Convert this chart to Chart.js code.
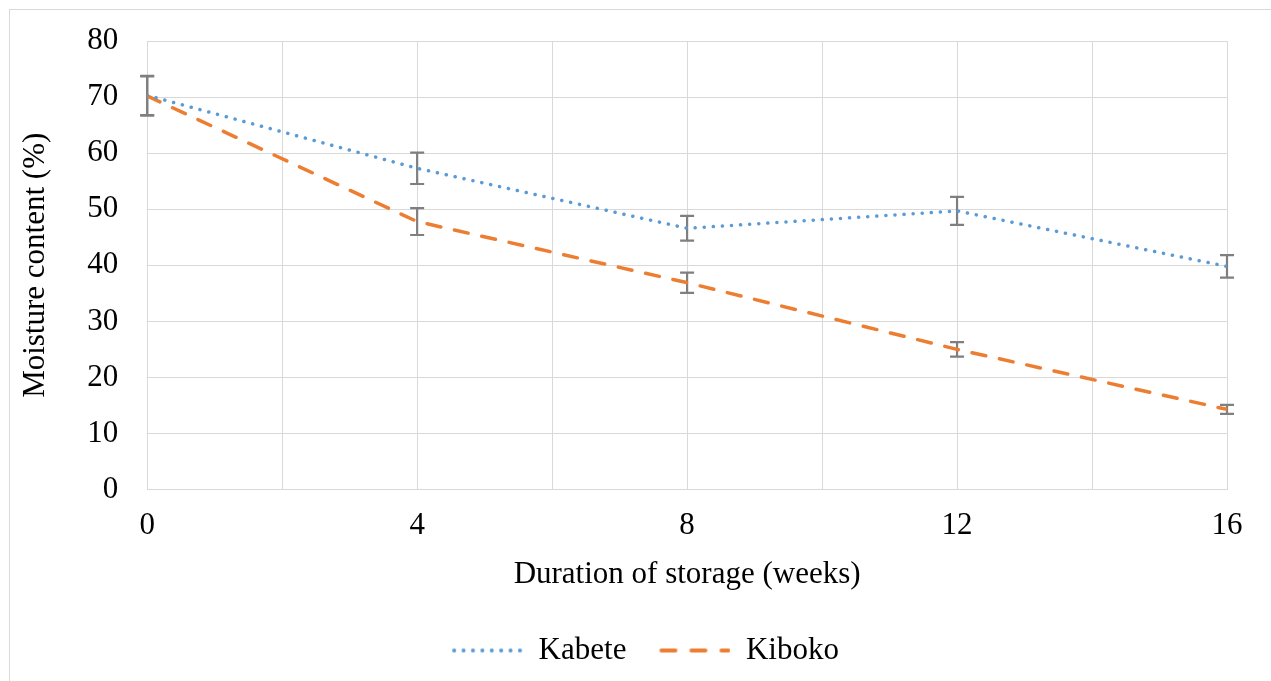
<!DOCTYPE html>
<html>
<head>
<meta charset="utf-8">
<script src="https://cdn.jsdelivr.net/npm/chart.js@4.4.1/dist/chart.umd.min.js"></script>
<style>
  html, body { margin: 0; padding: 0; background: #fff; overflow: hidden; }
  #frame { position: absolute; left: 9px; top: 9px; width: 1280px; height: 700px; border: 1px solid #d9d9d9; box-sizing: border-box; }
  #wrap { position: absolute; left: 0; top: 0; width: 1271px; height: 681px; }
</style>
</head>
<body>
<div id="frame"></div>
<div id="wrap"><canvas id="moistureChart"></canvas></div>
<script>
const weeks = [0, 4, 8, 12, 16];
const kabete = [70.3, 57.3, 46.6, 49.7, 39.8];
const kabeteErr = [3.5, 2.8, 2.2, 2.5, 2.0];
const kiboko = [70.2, 47.8, 36.9, 25.0, 14.3];
const kibokoErr = [3.5, 2.4, 1.8, 1.3, 0.8];

const serif = "'Liberation Serif', 'Times New Roman', serif";
const fontSize = 31;

// legend sample line, with some blank space on the left
function legendLine(color, dash, width) {
  const c = document.createElement('canvas');
  c.width = 82; c.height = 12;
  const g = c.getContext('2d');
  g.strokeStyle = color;
  g.lineWidth = width;
  g.lineCap = 'round';
  g.setLineDash(dash);
  g.beginPath();
  g.moveTo(13, 6);
  g.lineTo(80, 6);
  g.stroke();
  return c;
}

const errorBars = {
  id: 'errorBars',
  beforeDatasetsDraw(chart) {
    const { ctx, scales: { x, y } } = chart;
    const errs = [kabeteErr, kibokoErr];
    ctx.save();
    ctx.strokeStyle = '#7f7f7f';
    ctx.lineWidth = 2.2;
    chart.data.datasets.forEach((ds, i) => {
      ds.data.forEach((p, j) => {
        const px = x.getPixelForValue(p.x);
        const top = y.getPixelForValue(p.y + errs[i][j]);
        const bot = y.getPixelForValue(p.y - errs[i][j]);
        ctx.beginPath();
        ctx.moveTo(px, top); ctx.lineTo(px, bot);
        ctx.moveTo(px - 7, top); ctx.lineTo(px + 7, top);
        ctx.moveTo(px - 7, bot); ctx.lineTo(px + 7, bot);
        ctx.stroke();
      });
    });
    ctx.restore();
  }
};

// nudge the legend to the right, like the original
const legendShift = {
  id: 'legendShift',
  afterLayout(chart) {
    chart.legend.left += 18;
    chart.legend.right += 18;
  }
};

const ctx = document.getElementById('moistureChart').getContext('2d');

new Chart(ctx, {
  type: 'line',
  data: {
    datasets: [
      {
        label: 'Kabete',
        data: weeks.map((w, i) => ({ x: w, y: kabete[i] })),
        borderColor: '#5b9bd5',
        borderWidth: 3.5,
        borderDash: [0.1, 9],
        borderCapStyle: 'round',
        pointRadius: 0,
        pointStyle: legendLine('#5b9bd5', [0.1, 9.3], 4),
        tension: 0
      },
      {
        label: 'Kiboko',
        data: weeks.map((w, i) => ({ x: w, y: kiboko[i] })),
        borderColor: '#ed7d31',
        borderWidth: 3.5,
        borderDash: [14, 14],
        borderCapStyle: 'round',
        pointRadius: 0,
        pointStyle: legendLine('#ed7d31', [14, 16], 4),
        tension: 0
      }
    ]
  },
  options: {
    responsive: true,
    maintainAspectRatio: false,
    animation: false,
    layout: { padding: { left: 17, right: 44, top: 41, bottom: 5 } },
    scales: {
      x: {
        type: 'linear',
        min: 0,
        max: 16,
        afterFit: s => { s.height -= 7; },
        ticks: {
          stepSize: 2,
          color: '#000',
          font: { family: serif, size: fontSize },
          padding: 18,
          maxRotation: 0,
          callback: v => (v % 4 === 0 ? v : '')
        },
        grid: { color: '#d9d9d9', drawTicks: false },
        border: { display: false },
        title: {
          display: true,
          text: 'Duration of storage (weeks)',
          color: '#000',
          font: { family: serif, size: fontSize },
          padding: { top: 0, bottom: 20 }
        }
      },
      y: {
        min: 0,
        max: 80,
        afterFit: s => { s.paddingTop = 0; },
        ticks: {
          stepSize: 10,
          color: '#000',
          font: { family: serif, size: fontSize },
          padding: 29
        },
        grid: { color: '#d9d9d9', drawTicks: false },
        border: { display: false },
        title: {
          display: true,
          text: 'Moisture content (%)',
          color: '#000',
          font: { family: serif, size: fontSize },
          padding: { top: 0, bottom: 4 }
        }
      }
    },
    plugins: {
      legend: {
        position: 'bottom',
        labels: {
          usePointStyle: true,
          pointStyleWidth: 82,
          color: '#000',
          font: { family: serif, size: fontSize },
          padding: 22
        }
      },
      tooltip: { enabled: false }
    }
  },
  plugins: [errorBars, legendShift]
});
</script>
</body>
</html>
